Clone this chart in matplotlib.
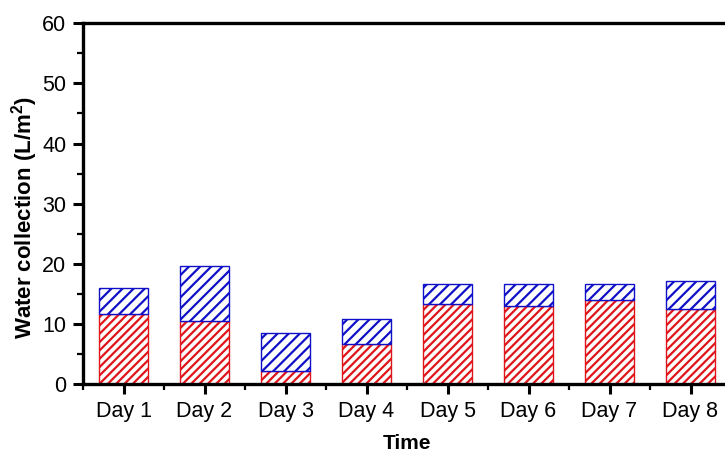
import matplotlib
matplotlib.use("Agg")
import matplotlib.pyplot as plt
from matplotlib.ticker import MultipleLocator, FixedLocator

plt.rcParams['font.family'] = ['Liberation Sans', 'DejaVu Sans']
plt.rcParams['hatch.linewidth'] = 1.6

days = ["Day 1", "Day 2", "Day 3", "Day 4", "Day 5", "Day 6", "Day 7", "Day 8"]
bottom_part = [11.7, 10.4, 2.1, 6.7, 13.3, 13.0, 13.9, 12.4]
total = [15.9, 19.7, 8.5, 10.8, 16.7, 16.6, 16.6, 17.1]
top_part = [t - b for t, b in zip(total, bottom_part)]

red = "#e0151b"
blue = "#1010c8"

fig = plt.figure(figsize=(7.25, 4.55), dpi=100)
ax = fig.add_axes([83 / 725, 1 - 384 / 455, (731 - 83) / 725, (384 - 23.3) / 455])

x = list(range(1, len(days) + 1))
ax.bar(x, bottom_part, width=0.6, facecolor="white", edgecolor=red,
       hatch="////", linewidth=1.0)
ax.bar(x, top_part, width=0.6, bottom=bottom_part, facecolor="white",
       edgecolor=blue, hatch="///", linewidth=1.0)

ax.set_xlim(0.5, 8.5)
ax.set_ylim(0, 60)
ax.set_xticks(x)
ax.set_xticklabels(days)
ax.xaxis.set_minor_locator(FixedLocator([i + 0.5 for i in range(0, 9)]))
ax.yaxis.set_major_locator(MultipleLocator(10))
ax.yaxis.set_minor_locator(MultipleLocator(5))

for side in ["left", "bottom", "top"]:
    ax.spines[side].set_linewidth(2.4)
ax.spines["right"].set_visible(False)

ax.tick_params(axis="both", which="major", direction="out", length=7,
               width=2.2, labelsize=15.5, pad=5)
ax.tick_params(axis="both", which="minor", direction="out", length=4, width=1.6)

ax.set_ylabel("Water collection (L/m$^\\mathregular{2}$)", fontsize=16,
              fontweight="bold")
ax.yaxis.set_label_coords(-0.066, 0.46)
ax.set_xlabel("Time", fontsize=15, fontweight="bold", labelpad=9)

fig.savefig("out.png", dpi=100)
